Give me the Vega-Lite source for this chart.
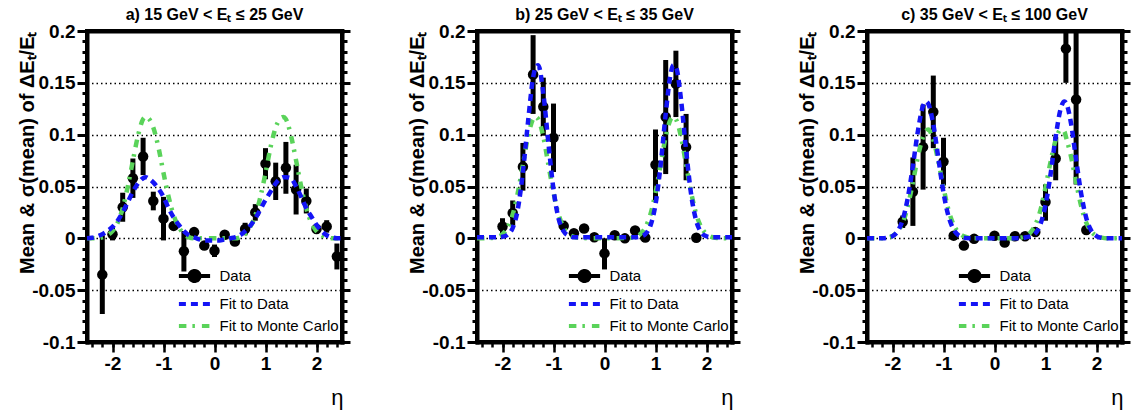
{
  "$schema": "https://vega.github.io/schema/vega-lite/v6.json",
  "background": "white",
  "padding": {"left": 14, "top": 5, "right": 0, "bottom": 0},
  "spacing": 135,
  "bounds": "flush",
  "datasets": {
    "pts": [
      {"p":"a","x":-2.2,"y":-0.035,"lo":-0.073,"hi":0.003},
      {"p":"a","x":-2.0,"y":0.004,"lo":-0.002,"hi":0.010},
      {"p":"a","x":-1.8,"y":0.030,"lo":0.016,"hi":0.044},
      {"p":"a","x":-1.6,"y":0.058,"lo":0.039,"hi":0.077},
      {"p":"a","x":-1.4,"y":0.079,"lo":0.061,"hi":0.097},
      {"p":"a","x":-1.2,"y":0.036,"lo":0.027,"hi":0.045},
      {"p":"a","x":-1.0,"y":0.019,"lo":-0.002,"hi":0.040},
      {"p":"a","x":-0.8,"y":0.012,"lo":0.008,"hi":0.016},
      {"p":"a","x":-0.6,"y":-0.0125,"lo":-0.032,"hi":0.007},
      {"p":"a","x":-0.4,"y":0.006,"lo":0.003,"hi":0.009},
      {"p":"a","x":-0.2,"y":-0.007,"lo":-0.010,"hi":-0.004},
      {"p":"a","x":0.0,"y":-0.012,"lo":-0.018,"hi":-0.006},
      {"p":"a","x":0.2,"y":0.0035,"lo":0.0005,"hi":0.0065},
      {"p":"a","x":0.4,"y":-0.003,"lo":-0.006,"hi":0.0},
      {"p":"a","x":0.6,"y":0.009,"lo":0.003,"hi":0.015},
      {"p":"a","x":0.8,"y":0.025,"lo":0.017,"hi":0.033},
      {"p":"a","x":1.0,"y":0.072,"lo":0.057,"hi":0.087},
      {"p":"a","x":1.2,"y":0.055,"lo":0.037,"hi":0.073},
      {"p":"a","x":1.4,"y":0.068,"lo":0.043,"hi":0.093},
      {"p":"a","x":1.6,"y":0.047,"lo":0.023,"hi":0.071},
      {"p":"a","x":1.8,"y":0.036,"lo":0.024,"hi":0.048},
      {"p":"a","x":2.0,"y":0.009,"lo":0.006,"hi":0.012},
      {"p":"a","x":2.2,"y":0.0115,"lo":0.0055,"hi":0.0175},
      {"p":"a","x":2.4,"y":-0.0175,"lo":-0.030,"hi":-0.005},
      {"p":"b","x":-2.0,"y":0.0114,"lo":0.0034,"hi":0.0194},
      {"p":"b","x":-1.8,"y":0.0245,"lo":0.0125,"hi":0.0365},
      {"p":"b","x":-1.6,"y":0.069,"lo":0.046,"hi":0.092},
      {"p":"b","x":-1.4,"y":0.158,"lo":0.120,"hi":0.196},
      {"p":"b","x":-1.2,"y":0.127,"lo":0.099,"hi":0.155},
      {"p":"b","x":-1.0,"y":0.097,"lo":0.064,"hi":0.130},
      {"p":"b","x":-0.8,"y":0.012,"lo":0.007,"hi":0.017},
      {"p":"b","x":-0.6,"y":0.005,"lo":0.002,"hi":0.008},
      {"p":"b","x":-0.4,"y":0.0095,"lo":0.0065,"hi":0.0125},
      {"p":"b","x":-0.2,"y":0.001,"lo":-0.001,"hi":0.003},
      {"p":"b","x":0.0,"y":-0.0145,"lo":-0.030,"hi":0.0},
      {"p":"b","x":0.2,"y":0.003,"lo":0.001,"hi":0.005},
      {"p":"b","x":0.4,"y":0.0,"lo":-0.002,"hi":0.002},
      {"p":"b","x":0.6,"y":0.0075,"lo":0.0045,"hi":0.0105},
      {"p":"b","x":0.8,"y":0.0007,"lo":-0.0013,"hi":0.0027},
      {"p":"b","x":1.0,"y":0.071,"lo":0.037,"hi":0.105},
      {"p":"b","x":1.2,"y":0.117,"lo":0.062,"hi":0.172},
      {"p":"b","x":1.4,"y":0.149,"lo":0.117,"hi":0.181},
      {"p":"b","x":1.6,"y":0.088,"lo":0.056,"hi":0.120},
      {"p":"b","x":1.8,"y":0.0005,"lo":-0.0015,"hi":0.0025},
      {"p":"c","x":-1.8,"y":0.016,"lo":0.010,"hi":0.022},
      {"p":"c","x":-1.6,"y":0.045,"lo":0.012,"hi":0.078},
      {"p":"c","x":-1.4,"y":0.088,"lo":0.047,"hi":0.129},
      {"p":"c","x":-1.2,"y":0.122,"lo":0.087,"hi":0.157},
      {"p":"c","x":-1.0,"y":0.074,"lo":0.051,"hi":0.097},
      {"p":"c","x":-0.8,"y":0.0026,"lo":0.0,"hi":0.0052},
      {"p":"c","x":-0.6,"y":-0.007,"lo":-0.011,"hi":-0.003},
      {"p":"c","x":-0.4,"y":-0.0005,"lo":-0.0035,"hi":0.0025},
      {"p":"c","x":0.0,"y":0.0025,"lo":0.0005,"hi":0.0045},
      {"p":"c","x":0.2,"y":-0.004,"lo":-0.006,"hi":-0.002},
      {"p":"c","x":0.4,"y":0.002,"lo":0.0,"hi":0.004},
      {"p":"c","x":0.6,"y":0.002,"lo":0.0,"hi":0.004},
      {"p":"c","x":0.8,"y":0.006,"lo":0.003,"hi":0.009},
      {"p":"c","x":1.0,"y":0.035,"lo":0.017,"hi":0.052},
      {"p":"c","x":1.2,"y":0.077,"lo":0.056,"hi":0.098},
      {"p":"c","x":1.4,"y":0.183,"lo":0.150,"hi":0.216},
      {"p":"c","x":1.6,"y":0.134,"lo":0.052,"hi":0.216},
      {"p":"c","x":1.8,"y":0.008,"lo":0.005,"hi":0.011}
    ],
    "fits": [
      {"p":"a","x":-2.5,"fit":0,"mc":0},
      {"p":"a","x":-2.4,"fit":0.0005,"mc":0},
      {"p":"a","x":-2.3,"fit":0.002,"mc":0},
      {"p":"a","x":-2.2,"fit":0.004,"mc":0.001},
      {"p":"a","x":-2.1,"fit":0.007,"mc":0.003},
      {"p":"a","x":-2.0,"fit":0.011,"mc":0.007},
      {"p":"a","x":-1.9,"fit":0.017,"mc":0.015},
      {"p":"a","x":-1.8,"fit":0.025,"mc":0.029},
      {"p":"a","x":-1.7,"fit":0.035,"mc":0.050},
      {"p":"a","x":-1.6,"fit":0.045,"mc":0.075},
      {"p":"a","x":-1.5,"fit":0.053,"mc":0.099},
      {"p":"a","x":-1.4,"fit":0.058,"mc":0.115},
      {"p":"a","x":-1.35,"fit":0.059,"mc":0.117},
      {"p":"a","x":-1.3,"fit":0.058,"mc":0.116},
      {"p":"a","x":-1.2,"fit":0.054,"mc":0.107},
      {"p":"a","x":-1.1,"fit":0.048,"mc":0.088},
      {"p":"a","x":-1.0,"fit":0.040,"mc":0.063},
      {"p":"a","x":-0.9,"fit":0.029,"mc":0.040},
      {"p":"a","x":-0.8,"fit":0.020,"mc":0.022},
      {"p":"a","x":-0.7,"fit":0.013,"mc":0.011},
      {"p":"a","x":-0.6,"fit":0.007,"mc":0.004},
      {"p":"a","x":-0.5,"fit":0.003,"mc":0.001},
      {"p":"a","x":-0.4,"fit":0.001,"mc":0},
      {"p":"a","x":-0.3,"fit":-0.001,"mc":0},
      {"p":"a","x":-0.2,"fit":-0.002,"mc":0},
      {"p":"a","x":-0.1,"fit":-0.002,"mc":0},
      {"p":"a","x":0.0,"fit":-0.002,"mc":0},
      {"p":"a","x":0.1,"fit":-0.002,"mc":0},
      {"p":"a","x":0.2,"fit":-0.001,"mc":0},
      {"p":"a","x":0.3,"fit":0,"mc":0},
      {"p":"a","x":0.4,"fit":0.001,"mc":0},
      {"p":"a","x":0.5,"fit":0.003,"mc":0.001},
      {"p":"a","x":0.6,"fit":0.007,"mc":0.004},
      {"p":"a","x":0.7,"fit":0.012,"mc":0.011},
      {"p":"a","x":0.8,"fit":0.019,"mc":0.022},
      {"p":"a","x":0.9,"fit":0.028,"mc":0.040},
      {"p":"a","x":1.0,"fit":0.037,"mc":0.063},
      {"p":"a","x":1.1,"fit":0.045,"mc":0.088},
      {"p":"a","x":1.2,"fit":0.053,"mc":0.107},
      {"p":"a","x":1.3,"fit":0.058,"mc":0.116},
      {"p":"a","x":1.35,"fit":0.059,"mc":0.117},
      {"p":"a","x":1.4,"fit":0.059,"mc":0.115},
      {"p":"a","x":1.5,"fit":0.058,"mc":0.099},
      {"p":"a","x":1.6,"fit":0.050,"mc":0.075},
      {"p":"a","x":1.7,"fit":0.040,"mc":0.050},
      {"p":"a","x":1.8,"fit":0.029,"mc":0.029},
      {"p":"a","x":1.9,"fit":0.021,"mc":0.015},
      {"p":"a","x":2.0,"fit":0.013,"mc":0.007},
      {"p":"a","x":2.1,"fit":0.007,"mc":0.003},
      {"p":"a","x":2.2,"fit":0.003,"mc":0.001},
      {"p":"a","x":2.3,"fit":0.001,"mc":0},
      {"p":"a","x":2.4,"fit":0,"mc":0},
      {"p":"a","x":2.5,"fit":0,"mc":0},
      {"p":"b","x":-2.5,"fit":0.001,"mc":0},
      {"p":"b","x":-2.2,"fit":0.001,"mc":0.0004},
      {"p":"b","x":-2.1,"fit":0.001,"mc":0.0013},
      {"p":"b","x":-2.0,"fit":0.0015,"mc":0.004},
      {"p":"b","x":-1.9,"fit":0.0035,"mc":0.0104},
      {"p":"b","x":-1.8,"fit":0.010,"mc":0.023},
      {"p":"b","x":-1.7,"fit":0.028,"mc":0.044},
      {"p":"b","x":-1.6,"fit":0.064,"mc":0.071},
      {"p":"b","x":-1.5,"fit":0.112,"mc":0.098},
      {"p":"b","x":-1.4,"fit":0.155,"mc":0.115},
      {"p":"b","x":-1.35,"fit":0.165,"mc":0.117},
      {"p":"b","x":-1.3,"fit":0.167,"mc":0.115},
      {"p":"b","x":-1.2,"fit":0.140,"mc":0.098},
      {"p":"b","x":-1.1,"fit":0.092,"mc":0.071},
      {"p":"b","x":-1.0,"fit":0.047,"mc":0.044},
      {"p":"b","x":-0.9,"fit":0.019,"mc":0.023},
      {"p":"b","x":-0.8,"fit":0.0067,"mc":0.0104},
      {"p":"b","x":-0.7,"fit":0.0024,"mc":0.004},
      {"p":"b","x":-0.6,"fit":0.001,"mc":0.0013},
      {"p":"b","x":-0.5,"fit":0.001,"mc":0.0004},
      {"p":"b","x":0.0,"fit":0.001,"mc":0},
      {"p":"b","x":0.5,"fit":0.001,"mc":0.0004},
      {"p":"b","x":0.6,"fit":0.001,"mc":0.0013},
      {"p":"b","x":0.7,"fit":0.0017,"mc":0.004},
      {"p":"b","x":0.8,"fit":0.0041,"mc":0.0104},
      {"p":"b","x":0.9,"fit":0.0122,"mc":0.023},
      {"p":"b","x":1.0,"fit":0.0326,"mc":0.044},
      {"p":"b","x":1.1,"fit":0.0705,"mc":0.071},
      {"p":"b","x":1.2,"fit":0.120,"mc":0.098},
      {"p":"b","x":1.3,"fit":0.1595,"mc":0.115},
      {"p":"b","x":1.35,"fit":0.167,"mc":0.117},
      {"p":"b","x":1.4,"fit":0.1655,"mc":0.115},
      {"p":"b","x":1.5,"fit":0.134,"mc":0.098},
      {"p":"b","x":1.6,"fit":0.085,"mc":0.071},
      {"p":"b","x":1.7,"fit":0.042,"mc":0.044},
      {"p":"b","x":1.8,"fit":0.0167,"mc":0.023},
      {"p":"b","x":1.9,"fit":0.0056,"mc":0.0104},
      {"p":"b","x":2.0,"fit":0.002,"mc":0.004},
      {"p":"b","x":2.1,"fit":0.001,"mc":0.0013},
      {"p":"b","x":2.2,"fit":0.001,"mc":0.0004},
      {"p":"b","x":2.5,"fit":0.001,"mc":0},
      {"p":"c","x":-2.5,"fit":0,"mc":0},
      {"p":"c","x":-2.2,"fit":0,"mc":0},
      {"p":"c","x":-2.1,"fit":0.0005,"mc":0.0007},
      {"p":"c","x":-2.0,"fit":0.0021,"mc":0.0023},
      {"p":"c","x":-1.9,"fit":0.0068,"mc":0.0065},
      {"p":"c","x":-1.8,"fit":0.018,"mc":0.015},
      {"p":"c","x":-1.7,"fit":0.039,"mc":0.031},
      {"p":"c","x":-1.6,"fit":0.070,"mc":0.054},
      {"p":"c","x":-1.5,"fit":0.104,"mc":0.079},
      {"p":"c","x":-1.4,"fit":0.128,"mc":0.098},
      {"p":"c","x":-1.34,"fit":0.132,"mc":0.104},
      {"p":"c","x":-1.3,"fit":0.130,"mc":0.105},
      {"p":"c","x":-1.2,"fit":0.110,"mc":0.095},
      {"p":"c","x":-1.1,"fit":0.077,"mc":0.074},
      {"p":"c","x":-1.0,"fit":0.044,"mc":0.049},
      {"p":"c","x":-0.9,"fit":0.021,"mc":0.027},
      {"p":"c","x":-0.8,"fit":0.0084,"mc":0.013},
      {"p":"c","x":-0.7,"fit":0.0028,"mc":0.0054},
      {"p":"c","x":-0.6,"fit":0.0007,"mc":0.0019},
      {"p":"c","x":-0.5,"fit":0,"mc":0.0005},
      {"p":"c","x":-0.4,"fit":0,"mc":0},
      {"p":"c","x":0.4,"fit":0,"mc":0},
      {"p":"c","x":0.5,"fit":0,"mc":0.0005},
      {"p":"c","x":0.6,"fit":0.0008,"mc":0.0019},
      {"p":"c","x":0.7,"fit":0.002,"mc":0.0054},
      {"p":"c","x":0.8,"fit":0.0046,"mc":0.013},
      {"p":"c","x":0.9,"fit":0.0135,"mc":0.027},
      {"p":"c","x":1.0,"fit":0.032,"mc":0.049},
      {"p":"c","x":1.1,"fit":0.062,"mc":0.074},
      {"p":"c","x":1.2,"fit":0.098,"mc":0.095},
      {"p":"c","x":1.3,"fit":0.1255,"mc":0.105},
      {"p":"c","x":1.37,"fit":0.132,"mc":0.103},
      {"p":"c","x":1.4,"fit":0.131,"mc":0.098},
      {"p":"c","x":1.5,"fit":0.111,"mc":0.079},
      {"p":"c","x":1.6,"fit":0.076,"mc":0.054},
      {"p":"c","x":1.7,"fit":0.043,"mc":0.031},
      {"p":"c","x":1.8,"fit":0.0195,"mc":0.015},
      {"p":"c","x":1.9,"fit":0.0073,"mc":0.0065},
      {"p":"c","x":2.0,"fit":0.0022,"mc":0.0023},
      {"p":"c","x":2.1,"fit":0.0005,"mc":0.0007},
      {"p":"c","x":2.2,"fit":0,"mc":0},
      {"p":"c","x":2.5,"fit":0,"mc":0}
    ]
  },
  "hconcat": [
    {
      "title": {"text": "a) 15 GeV < Eₜ ≤ 25 GeV"},
      "width": 255, "height": 311,
      "layer": [
        {"data": {"name": "pts"}, "transform": [{"filter": "datum.p === 'a'"}],
          "mark": {"type": "rule", "strokeWidth": 5, "color": "black"},
          "encoding": {
            "x": {"field": "x", "type": "quantitative", "scale": {"domain": [-2.5, 2.5], "nice": false, "zero": false},
              "axis": {"orient": "bottom", "values": [-2.4,-2.2,-2,-1.8,-1.6,-1.4,-1.2,-1,-0.8,-0.6,-0.4,-0.2,0,0.2,0.4,0.6,0.8,1,1.2,1.4,1.6,1.8,2,2.2,2.4], "title": null, "labels": false, "grid": false, "domain": false, "ticks": true, "tickSize": 5, "tickWidth": 2.5, "tickColor": "black"}},
            "y": {"field": "lo", "type": "quantitative", "scale": {"domain": [-0.1, 0.2], "nice": false, "zero": false, "clamp": true},
              "axis": {"orient": "left", "values": [-0.1,-0.09,-0.08,-0.07,-0.06,-0.05,-0.04,-0.03,-0.02,-0.01,0,0.01,0.02,0.03,0.04,0.05,0.06,0.07,0.08,0.09,0.1,0.11,0.12,0.13,0.14,0.15,0.16,0.17,0.18,0.19,0.2], "title": null, "labels": false, "grid": false, "domain": false, "ticks": true, "tickSize": 5, "tickWidth": 3, "tickColor": "black"}},
            "y2": {"field": "hi"}}},
        {"data": {"name": "pts"}, "transform": [{"filter": "datum.p === 'a'"}],
          "mark": {"type": "point", "shape": "circle", "filled": true, "size": 110, "color": "black", "opacity": 1},
          "encoding": {
            "x": {"field": "x", "type": "quantitative", "scale": {"domain": [-2.5, 2.5], "nice": false, "zero": false},
              "axis": {"orient": "bottom", "values": [-2, -1, 0, 1, 2], "grid": false, "ticks": true, "tickSize": 10, "tickWidth": 2.5, "tickColor": "black", "labelPadding": 2,
                "domain": true, "domainWidth": 4, "domainColor": "black", "domainCap": "square",
                "labelExpr": "replace(format(datum.value, 'd'), '\u2212', '-')",
                "title": "η", "titleFontSize": 22, "titleFontWeight": "normal", "titleX": 256, "titleY": 62, "titleAlign": "right", "titleBaseline": "alphabetic"}},
            "y": {"field": "y", "type": "quantitative", "scale": {"domain": [-0.1, 0.2], "nice": false, "zero": false, "clamp": true},
              "axis": {"orient": "left", "values": [-0.1, -0.05, 0, 0.05, 0.1, 0.15, 0.2], "ticks": true, "tickSize": 10, "tickWidth": 3, "tickColor": "black", "labelPadding": 2,
                "domain": true, "domainWidth": 4, "domainColor": "black", "domainCap": "square",
                "labelExpr": "replace(format(datum.value, '.2~f'), '\u2212', '-')",
                "title": "Mean & σ(mean) of ΔEₜ/Eₜ", "titleFontSize": 20, "titleFontWeight": "bold", "titleAngle": -90, "titleX": -54, "titleY": 0, "titleAlign": "right", "titleBaseline": "alphabetic",
                "grid": true, "gridColor": "black", "gridWidth": 1.5, "gridDash": [1.5, 3],
                "gridOpacity": {"condition": {"test": "datum.value > -0.095 && datum.value < 0.195", "value": 1}, "value": 0}}}}},
        {"data": {"name": "fits"}, "transform": [{"filter": "datum.p === 'a'"}, {"fold": ["mc", "fit"], "as": ["series", "val"]}, {"filter": "datum.series === 'mc'"}],
          "mark": {"type": "line", "strokeWidth": 4.5, "interpolate": "monotone"},
          "encoding": {
            "x": {"field": "x", "type": "quantitative", "scale": {"domain": [-2.5, 2.5], "nice": false, "zero": false},
              "axis": {"orient": "top", "title": null, "labels": false, "ticks": false, "grid": false, "domain": true, "domainWidth": 4, "domainColor": "black", "domainCap": "square"}},
            "y": {"field": "val", "type": "quantitative", "scale": {"domain": [-0.1, 0.2], "nice": false, "zero": false, "clamp": true},
              "axis": {"orient": "right", "values": [-0.1, -0.05, 0, 0.05, 0.1, 0.15, 0.2], "title": null, "labels": false, "grid": false, "ticks": true, "tickSize": 8, "tickWidth": 3, "tickColor": "black", "domain": true, "domainWidth": 4, "domainColor": "black", "domainCap": "square"}},
            "color": {"field": "series", "type": "nominal", "scale": {"domain": ["data", "fit", "mc"], "range": ["black", "#1414f5", "#5ad35a"]},
              "legend": {"orient": "none", "legendX": 93.5, "legendY": 231, "title": null, "padding": 0, "symbolType": "M-1.3,0L1.3,0", "symbolSize": 576, "symbolStrokeWidth": 4, "labelFont": "Liberation Sans", "labelFontSize": 15, "labelFontWeight": "normal", "labelColor": "black", "labelOffset": 11, "rowPadding": 0,
                "labelExpr": "datum.value === 'data' ? 'Data' : datum.value === 'fit' ? 'Fit to Data' : 'Fit to Monte Carlo'",
                "encode": {"symbols": {"update": {"shape": [{"test": "datum.value === 'data'", "value": "M-1.3,0L1.3,0M-0.42,0A0.42,0.42,0,1,1,0.42,0A0.42,0.42,0,1,1,-0.42,0Z"}, {"value": "M-1.3,0L1.3,0"}], "fill": [{"test": "datum.value === 'data'", "value": "black"}, {"value": "transparent"}]}}}}},
            "strokeDash": {"field": "series", "type": "nominal", "scale": {"domain": ["data", "fit", "mc"], "range": [[1, 0], [7, 5], [7.5, 6, 2.5, 7]]},
              "legend": {"orient": "none", "legendX": 93.5, "legendY": 231, "title": null, "padding": 0, "symbolType": "M-1.3,0L1.3,0", "symbolSize": 576, "symbolStrokeWidth": 4, "labelFont": "Liberation Sans", "labelFontSize": 15, "labelFontWeight": "normal", "labelColor": "black", "labelOffset": 11, "rowPadding": 0,
                "labelExpr": "datum.value === 'data' ? 'Data' : datum.value === 'fit' ? 'Fit to Data' : 'Fit to Monte Carlo'",
                "encode": {"symbols": {"update": {"shape": [{"test": "datum.value === 'data'", "value": "M-1.3,0L1.3,0M-0.42,0A0.42,0.42,0,1,1,0.42,0A0.42,0.42,0,1,1,-0.42,0Z"}, {"value": "M-1.3,0L1.3,0"}], "fill": [{"test": "datum.value === 'data'", "value": "black"}, {"value": "transparent"}]}}}}}}},
        {"data": {"name": "fits"}, "transform": [{"filter": "datum.p === 'a'"}, {"fold": ["mc", "fit"], "as": ["series", "val"]}, {"filter": "datum.series === 'fit'"}],
          "mark": {"type": "line", "strokeWidth": 4.5, "interpolate": "monotone"},
          "encoding": {
            "x": {"field": "x", "type": "quantitative", "scale": {"domain": [-2.5, 2.5], "nice": false, "zero": false}, "axis": null},
            "y": {"field": "val", "type": "quantitative", "scale": {"domain": [-0.1, 0.2], "nice": false, "zero": false, "clamp": true},
              "axis": {"orient": "right", "values": [-0.1,-0.09,-0.08,-0.07,-0.06,-0.05,-0.04,-0.03,-0.02,-0.01,0,0.01,0.02,0.03,0.04,0.05,0.06,0.07,0.08,0.09,0.1,0.11,0.12,0.13,0.14,0.15,0.16,0.17,0.18,0.19,0.2], "title": null, "labels": false, "grid": false, "domain": false, "ticks": true, "tickSize": 5, "tickWidth": 3, "tickColor": "black"}},
            "color": {"field": "series", "type": "nominal", "scale": {"domain": ["data", "fit", "mc"], "range": ["black", "#1414f5", "#5ad35a"]},
              "legend": {"orient": "none", "legendX": 93.5, "legendY": 231, "title": null, "padding": 0, "symbolType": "M-1.3,0L1.3,0", "symbolSize": 576, "symbolStrokeWidth": 4, "labelFont": "Liberation Sans", "labelFontSize": 15, "labelFontWeight": "normal", "labelColor": "black", "labelOffset": 11, "rowPadding": 0,
                "labelExpr": "datum.value === 'data' ? 'Data' : datum.value === 'fit' ? 'Fit to Data' : 'Fit to Monte Carlo'",
                "encode": {"symbols": {"update": {"shape": [{"test": "datum.value === 'data'", "value": "M-1.3,0L1.3,0M-0.42,0A0.42,0.42,0,1,1,0.42,0A0.42,0.42,0,1,1,-0.42,0Z"}, {"value": "M-1.3,0L1.3,0"}], "fill": [{"test": "datum.value === 'data'", "value": "black"}, {"value": "transparent"}]}}}}},
            "strokeDash": {"field": "series", "type": "nominal", "scale": {"domain": ["data", "fit", "mc"], "range": [[1, 0], [7, 5], [7.5, 6, 2.5, 7]]},
              "legend": {"orient": "none", "legendX": 93.5, "legendY": 231, "title": null, "padding": 0, "symbolType": "M-1.3,0L1.3,0", "symbolSize": 576, "symbolStrokeWidth": 4, "labelFont": "Liberation Sans", "labelFontSize": 15, "labelFontWeight": "normal", "labelColor": "black", "labelOffset": 11, "rowPadding": 0,
                "labelExpr": "datum.value === 'data' ? 'Data' : datum.value === 'fit' ? 'Fit to Data' : 'Fit to Monte Carlo'",
                "encode": {"symbols": {"update": {"shape": [{"test": "datum.value === 'data'", "value": "M-1.3,0L1.3,0M-0.42,0A0.42,0.42,0,1,1,0.42,0A0.42,0.42,0,1,1,-0.42,0Z"}, {"value": "M-1.3,0L1.3,0"}], "fill": [{"test": "datum.value === 'data'", "value": "black"}, {"value": "transparent"}]}}}}}}}
      ],
      "resolve": {"axis": {"x": "independent", "y": "independent"}}
    },
    {
      "title": {"text": "b) 25 GeV < Eₜ ≤ 35 GeV"},
      "width": 255, "height": 311,
      "layer": [
        {"data": {"name": "pts"}, "transform": [{"filter": "datum.p === 'b'"}],
          "mark": {"type": "rule", "strokeWidth": 5, "color": "black"},
          "encoding": {
            "x": {"field": "x", "type": "quantitative", "scale": {"domain": [-2.5, 2.5], "nice": false, "zero": false},
              "axis": {"orient": "bottom", "values": [-2.4,-2.2,-2,-1.8,-1.6,-1.4,-1.2,-1,-0.8,-0.6,-0.4,-0.2,0,0.2,0.4,0.6,0.8,1,1.2,1.4,1.6,1.8,2,2.2,2.4], "title": null, "labels": false, "grid": false, "domain": false, "ticks": true, "tickSize": 5, "tickWidth": 2.5, "tickColor": "black"}},
            "y": {"field": "lo", "type": "quantitative", "scale": {"domain": [-0.1, 0.2], "nice": false, "zero": false, "clamp": true},
              "axis": {"orient": "left", "values": [-0.1,-0.09,-0.08,-0.07,-0.06,-0.05,-0.04,-0.03,-0.02,-0.01,0,0.01,0.02,0.03,0.04,0.05,0.06,0.07,0.08,0.09,0.1,0.11,0.12,0.13,0.14,0.15,0.16,0.17,0.18,0.19,0.2], "title": null, "labels": false, "grid": false, "domain": false, "ticks": true, "tickSize": 5, "tickWidth": 3, "tickColor": "black"}},
            "y2": {"field": "hi"}}},
        {"data": {"name": "pts"}, "transform": [{"filter": "datum.p === 'b'"}],
          "mark": {"type": "point", "shape": "circle", "filled": true, "size": 110, "color": "black", "opacity": 1},
          "encoding": {
            "x": {"field": "x", "type": "quantitative", "scale": {"domain": [-2.5, 2.5], "nice": false, "zero": false},
              "axis": {"orient": "bottom", "values": [-2, -1, 0, 1, 2], "grid": false, "ticks": true, "tickSize": 10, "tickWidth": 2.5, "tickColor": "black", "labelPadding": 2,
                "domain": true, "domainWidth": 4, "domainColor": "black", "domainCap": "square",
                "labelExpr": "replace(format(datum.value, 'd'), '\u2212', '-')",
                "title": "η", "titleFontSize": 22, "titleFontWeight": "normal", "titleX": 256, "titleY": 62, "titleAlign": "right", "titleBaseline": "alphabetic"}},
            "y": {"field": "y", "type": "quantitative", "scale": {"domain": [-0.1, 0.2], "nice": false, "zero": false, "clamp": true},
              "axis": {"orient": "left", "values": [-0.1, -0.05, 0, 0.05, 0.1, 0.15, 0.2], "ticks": true, "tickSize": 10, "tickWidth": 3, "tickColor": "black", "labelPadding": 2,
                "domain": true, "domainWidth": 4, "domainColor": "black", "domainCap": "square",
                "labelExpr": "replace(format(datum.value, '.2~f'), '\u2212', '-')",
                "title": "Mean & σ(mean) of ΔEₜ/Eₜ", "titleFontSize": 20, "titleFontWeight": "bold", "titleAngle": -90, "titleX": -54, "titleY": 0, "titleAlign": "right", "titleBaseline": "alphabetic",
                "grid": true, "gridColor": "black", "gridWidth": 1.5, "gridDash": [1.5, 3],
                "gridOpacity": {"condition": {"test": "datum.value > -0.095 && datum.value < 0.195", "value": 1}, "value": 0}}}}},
        {"data": {"name": "fits"}, "transform": [{"filter": "datum.p === 'b'"}, {"fold": ["mc", "fit"], "as": ["series", "val"]}, {"filter": "datum.series === 'mc'"}],
          "mark": {"type": "line", "strokeWidth": 4.5, "interpolate": "monotone"},
          "encoding": {
            "x": {"field": "x", "type": "quantitative", "scale": {"domain": [-2.5, 2.5], "nice": false, "zero": false},
              "axis": {"orient": "top", "title": null, "labels": false, "ticks": false, "grid": false, "domain": true, "domainWidth": 4, "domainColor": "black", "domainCap": "square"}},
            "y": {"field": "val", "type": "quantitative", "scale": {"domain": [-0.1, 0.2], "nice": false, "zero": false, "clamp": true},
              "axis": {"orient": "right", "values": [-0.1, -0.05, 0, 0.05, 0.1, 0.15, 0.2], "title": null, "labels": false, "grid": false, "ticks": true, "tickSize": 8, "tickWidth": 3, "tickColor": "black", "domain": true, "domainWidth": 4, "domainColor": "black", "domainCap": "square"}},
            "color": {"field": "series", "type": "nominal", "scale": {"domain": ["data", "fit", "mc"], "range": ["black", "#1414f5", "#5ad35a"]},
              "legend": {"orient": "none", "legendX": 93.5, "legendY": 231, "title": null, "padding": 0, "symbolType": "M-1.3,0L1.3,0", "symbolSize": 576, "symbolStrokeWidth": 4, "labelFont": "Liberation Sans", "labelFontSize": 15, "labelFontWeight": "normal", "labelColor": "black", "labelOffset": 11, "rowPadding": 0,
                "labelExpr": "datum.value === 'data' ? 'Data' : datum.value === 'fit' ? 'Fit to Data' : 'Fit to Monte Carlo'",
                "encode": {"symbols": {"update": {"shape": [{"test": "datum.value === 'data'", "value": "M-1.3,0L1.3,0M-0.42,0A0.42,0.42,0,1,1,0.42,0A0.42,0.42,0,1,1,-0.42,0Z"}, {"value": "M-1.3,0L1.3,0"}], "fill": [{"test": "datum.value === 'data'", "value": "black"}, {"value": "transparent"}]}}}}},
            "strokeDash": {"field": "series", "type": "nominal", "scale": {"domain": ["data", "fit", "mc"], "range": [[1, 0], [7, 5], [7.5, 6, 2.5, 7]]},
              "legend": {"orient": "none", "legendX": 93.5, "legendY": 231, "title": null, "padding": 0, "symbolType": "M-1.3,0L1.3,0", "symbolSize": 576, "symbolStrokeWidth": 4, "labelFont": "Liberation Sans", "labelFontSize": 15, "labelFontWeight": "normal", "labelColor": "black", "labelOffset": 11, "rowPadding": 0,
                "labelExpr": "datum.value === 'data' ? 'Data' : datum.value === 'fit' ? 'Fit to Data' : 'Fit to Monte Carlo'",
                "encode": {"symbols": {"update": {"shape": [{"test": "datum.value === 'data'", "value": "M-1.3,0L1.3,0M-0.42,0A0.42,0.42,0,1,1,0.42,0A0.42,0.42,0,1,1,-0.42,0Z"}, {"value": "M-1.3,0L1.3,0"}], "fill": [{"test": "datum.value === 'data'", "value": "black"}, {"value": "transparent"}]}}}}}}},
        {"data": {"name": "fits"}, "transform": [{"filter": "datum.p === 'b'"}, {"fold": ["mc", "fit"], "as": ["series", "val"]}, {"filter": "datum.series === 'fit'"}],
          "mark": {"type": "line", "strokeWidth": 4.5, "interpolate": "monotone"},
          "encoding": {
            "x": {"field": "x", "type": "quantitative", "scale": {"domain": [-2.5, 2.5], "nice": false, "zero": false}, "axis": null},
            "y": {"field": "val", "type": "quantitative", "scale": {"domain": [-0.1, 0.2], "nice": false, "zero": false, "clamp": true},
              "axis": {"orient": "right", "values": [-0.1,-0.09,-0.08,-0.07,-0.06,-0.05,-0.04,-0.03,-0.02,-0.01,0,0.01,0.02,0.03,0.04,0.05,0.06,0.07,0.08,0.09,0.1,0.11,0.12,0.13,0.14,0.15,0.16,0.17,0.18,0.19,0.2], "title": null, "labels": false, "grid": false, "domain": false, "ticks": true, "tickSize": 5, "tickWidth": 3, "tickColor": "black"}},
            "color": {"field": "series", "type": "nominal", "scale": {"domain": ["data", "fit", "mc"], "range": ["black", "#1414f5", "#5ad35a"]},
              "legend": {"orient": "none", "legendX": 93.5, "legendY": 231, "title": null, "padding": 0, "symbolType": "M-1.3,0L1.3,0", "symbolSize": 576, "symbolStrokeWidth": 4, "labelFont": "Liberation Sans", "labelFontSize": 15, "labelFontWeight": "normal", "labelColor": "black", "labelOffset": 11, "rowPadding": 0,
                "labelExpr": "datum.value === 'data' ? 'Data' : datum.value === 'fit' ? 'Fit to Data' : 'Fit to Monte Carlo'",
                "encode": {"symbols": {"update": {"shape": [{"test": "datum.value === 'data'", "value": "M-1.3,0L1.3,0M-0.42,0A0.42,0.42,0,1,1,0.42,0A0.42,0.42,0,1,1,-0.42,0Z"}, {"value": "M-1.3,0L1.3,0"}], "fill": [{"test": "datum.value === 'data'", "value": "black"}, {"value": "transparent"}]}}}}},
            "strokeDash": {"field": "series", "type": "nominal", "scale": {"domain": ["data", "fit", "mc"], "range": [[1, 0], [7, 5], [7.5, 6, 2.5, 7]]},
              "legend": {"orient": "none", "legendX": 93.5, "legendY": 231, "title": null, "padding": 0, "symbolType": "M-1.3,0L1.3,0", "symbolSize": 576, "symbolStrokeWidth": 4, "labelFont": "Liberation Sans", "labelFontSize": 15, "labelFontWeight": "normal", "labelColor": "black", "labelOffset": 11, "rowPadding": 0,
                "labelExpr": "datum.value === 'data' ? 'Data' : datum.value === 'fit' ? 'Fit to Data' : 'Fit to Monte Carlo'",
                "encode": {"symbols": {"update": {"shape": [{"test": "datum.value === 'data'", "value": "M-1.3,0L1.3,0M-0.42,0A0.42,0.42,0,1,1,0.42,0A0.42,0.42,0,1,1,-0.42,0Z"}, {"value": "M-1.3,0L1.3,0"}], "fill": [{"test": "datum.value === 'data'", "value": "black"}, {"value": "transparent"}]}}}}}}}
      ],
      "resolve": {"axis": {"x": "independent", "y": "independent"}}
    },
    {
      "title": {"text": "c) 35 GeV < Eₜ ≤ 100 GeV"},
      "width": 255, "height": 311,
      "layer": [
        {"data": {"name": "pts"}, "transform": [{"filter": "datum.p === 'c'"}],
          "mark": {"type": "rule", "strokeWidth": 5, "color": "black"},
          "encoding": {
            "x": {"field": "x", "type": "quantitative", "scale": {"domain": [-2.5, 2.5], "nice": false, "zero": false},
              "axis": {"orient": "bottom", "values": [-2.4,-2.2,-2,-1.8,-1.6,-1.4,-1.2,-1,-0.8,-0.6,-0.4,-0.2,0,0.2,0.4,0.6,0.8,1,1.2,1.4,1.6,1.8,2,2.2,2.4], "title": null, "labels": false, "grid": false, "domain": false, "ticks": true, "tickSize": 5, "tickWidth": 2.5, "tickColor": "black"}},
            "y": {"field": "lo", "type": "quantitative", "scale": {"domain": [-0.1, 0.2], "nice": false, "zero": false, "clamp": true},
              "axis": {"orient": "left", "values": [-0.1,-0.09,-0.08,-0.07,-0.06,-0.05,-0.04,-0.03,-0.02,-0.01,0,0.01,0.02,0.03,0.04,0.05,0.06,0.07,0.08,0.09,0.1,0.11,0.12,0.13,0.14,0.15,0.16,0.17,0.18,0.19,0.2], "title": null, "labels": false, "grid": false, "domain": false, "ticks": true, "tickSize": 5, "tickWidth": 3, "tickColor": "black"}},
            "y2": {"field": "hi"}}},
        {"data": {"name": "pts"}, "transform": [{"filter": "datum.p === 'c'"}],
          "mark": {"type": "point", "shape": "circle", "filled": true, "size": 110, "color": "black", "opacity": 1},
          "encoding": {
            "x": {"field": "x", "type": "quantitative", "scale": {"domain": [-2.5, 2.5], "nice": false, "zero": false},
              "axis": {"orient": "bottom", "values": [-2, -1, 0, 1, 2], "grid": false, "ticks": true, "tickSize": 10, "tickWidth": 2.5, "tickColor": "black", "labelPadding": 2,
                "domain": true, "domainWidth": 4, "domainColor": "black", "domainCap": "square",
                "labelExpr": "replace(format(datum.value, 'd'), '\u2212', '-')",
                "title": "η", "titleFontSize": 22, "titleFontWeight": "normal", "titleX": 256, "titleY": 62, "titleAlign": "right", "titleBaseline": "alphabetic"}},
            "y": {"field": "y", "type": "quantitative", "scale": {"domain": [-0.1, 0.2], "nice": false, "zero": false, "clamp": true},
              "axis": {"orient": "left", "values": [-0.1, -0.05, 0, 0.05, 0.1, 0.15, 0.2], "ticks": true, "tickSize": 10, "tickWidth": 3, "tickColor": "black", "labelPadding": 2,
                "domain": true, "domainWidth": 4, "domainColor": "black", "domainCap": "square",
                "labelExpr": "replace(format(datum.value, '.2~f'), '\u2212', '-')",
                "title": "Mean & σ(mean) of ΔEₜ/Eₜ", "titleFontSize": 20, "titleFontWeight": "bold", "titleAngle": -90, "titleX": -54, "titleY": 0, "titleAlign": "right", "titleBaseline": "alphabetic",
                "grid": true, "gridColor": "black", "gridWidth": 1.5, "gridDash": [1.5, 3],
                "gridOpacity": {"condition": {"test": "datum.value > -0.095 && datum.value < 0.195", "value": 1}, "value": 0}}}}},
        {"data": {"name": "fits"}, "transform": [{"filter": "datum.p === 'c'"}, {"fold": ["mc", "fit"], "as": ["series", "val"]}, {"filter": "datum.series === 'mc'"}],
          "mark": {"type": "line", "strokeWidth": 4.5, "interpolate": "monotone"},
          "encoding": {
            "x": {"field": "x", "type": "quantitative", "scale": {"domain": [-2.5, 2.5], "nice": false, "zero": false},
              "axis": {"orient": "top", "title": null, "labels": false, "ticks": false, "grid": false, "domain": true, "domainWidth": 4, "domainColor": "black", "domainCap": "square"}},
            "y": {"field": "val", "type": "quantitative", "scale": {"domain": [-0.1, 0.2], "nice": false, "zero": false, "clamp": true},
              "axis": {"orient": "right", "values": [-0.1, -0.05, 0, 0.05, 0.1, 0.15, 0.2], "title": null, "labels": false, "grid": false, "ticks": true, "tickSize": 8, "tickWidth": 3, "tickColor": "black", "domain": true, "domainWidth": 4, "domainColor": "black", "domainCap": "square"}},
            "color": {"field": "series", "type": "nominal", "scale": {"domain": ["data", "fit", "mc"], "range": ["black", "#1414f5", "#5ad35a"]},
              "legend": {"orient": "none", "legendX": 93.5, "legendY": 231, "title": null, "padding": 0, "symbolType": "M-1.3,0L1.3,0", "symbolSize": 576, "symbolStrokeWidth": 4, "labelFont": "Liberation Sans", "labelFontSize": 15, "labelFontWeight": "normal", "labelColor": "black", "labelOffset": 11, "rowPadding": 0,
                "labelExpr": "datum.value === 'data' ? 'Data' : datum.value === 'fit' ? 'Fit to Data' : 'Fit to Monte Carlo'",
                "encode": {"symbols": {"update": {"shape": [{"test": "datum.value === 'data'", "value": "M-1.3,0L1.3,0M-0.42,0A0.42,0.42,0,1,1,0.42,0A0.42,0.42,0,1,1,-0.42,0Z"}, {"value": "M-1.3,0L1.3,0"}], "fill": [{"test": "datum.value === 'data'", "value": "black"}, {"value": "transparent"}]}}}}},
            "strokeDash": {"field": "series", "type": "nominal", "scale": {"domain": ["data", "fit", "mc"], "range": [[1, 0], [7, 5], [7.5, 6, 2.5, 7]]},
              "legend": {"orient": "none", "legendX": 93.5, "legendY": 231, "title": null, "padding": 0, "symbolType": "M-1.3,0L1.3,0", "symbolSize": 576, "symbolStrokeWidth": 4, "labelFont": "Liberation Sans", "labelFontSize": 15, "labelFontWeight": "normal", "labelColor": "black", "labelOffset": 11, "rowPadding": 0,
                "labelExpr": "datum.value === 'data' ? 'Data' : datum.value === 'fit' ? 'Fit to Data' : 'Fit to Monte Carlo'",
                "encode": {"symbols": {"update": {"shape": [{"test": "datum.value === 'data'", "value": "M-1.3,0L1.3,0M-0.42,0A0.42,0.42,0,1,1,0.42,0A0.42,0.42,0,1,1,-0.42,0Z"}, {"value": "M-1.3,0L1.3,0"}], "fill": [{"test": "datum.value === 'data'", "value": "black"}, {"value": "transparent"}]}}}}}}},
        {"data": {"name": "fits"}, "transform": [{"filter": "datum.p === 'c'"}, {"fold": ["mc", "fit"], "as": ["series", "val"]}, {"filter": "datum.series === 'fit'"}],
          "mark": {"type": "line", "strokeWidth": 4.5, "interpolate": "monotone"},
          "encoding": {
            "x": {"field": "x", "type": "quantitative", "scale": {"domain": [-2.5, 2.5], "nice": false, "zero": false}, "axis": null},
            "y": {"field": "val", "type": "quantitative", "scale": {"domain": [-0.1, 0.2], "nice": false, "zero": false, "clamp": true},
              "axis": {"orient": "right", "values": [-0.1,-0.09,-0.08,-0.07,-0.06,-0.05,-0.04,-0.03,-0.02,-0.01,0,0.01,0.02,0.03,0.04,0.05,0.06,0.07,0.08,0.09,0.1,0.11,0.12,0.13,0.14,0.15,0.16,0.17,0.18,0.19,0.2], "title": null, "labels": false, "grid": false, "domain": false, "ticks": true, "tickSize": 5, "tickWidth": 3, "tickColor": "black"}},
            "color": {"field": "series", "type": "nominal", "scale": {"domain": ["data", "fit", "mc"], "range": ["black", "#1414f5", "#5ad35a"]},
              "legend": {"orient": "none", "legendX": 93.5, "legendY": 231, "title": null, "padding": 0, "symbolType": "M-1.3,0L1.3,0", "symbolSize": 576, "symbolStrokeWidth": 4, "labelFont": "Liberation Sans", "labelFontSize": 15, "labelFontWeight": "normal", "labelColor": "black", "labelOffset": 11, "rowPadding": 0,
                "labelExpr": "datum.value === 'data' ? 'Data' : datum.value === 'fit' ? 'Fit to Data' : 'Fit to Monte Carlo'",
                "encode": {"symbols": {"update": {"shape": [{"test": "datum.value === 'data'", "value": "M-1.3,0L1.3,0M-0.42,0A0.42,0.42,0,1,1,0.42,0A0.42,0.42,0,1,1,-0.42,0Z"}, {"value": "M-1.3,0L1.3,0"}], "fill": [{"test": "datum.value === 'data'", "value": "black"}, {"value": "transparent"}]}}}}},
            "strokeDash": {"field": "series", "type": "nominal", "scale": {"domain": ["data", "fit", "mc"], "range": [[1, 0], [7, 5], [7.5, 6, 2.5, 7]]},
              "legend": {"orient": "none", "legendX": 93.5, "legendY": 231, "title": null, "padding": 0, "symbolType": "M-1.3,0L1.3,0", "symbolSize": 576, "symbolStrokeWidth": 4, "labelFont": "Liberation Sans", "labelFontSize": 15, "labelFontWeight": "normal", "labelColor": "black", "labelOffset": 11, "rowPadding": 0,
                "labelExpr": "datum.value === 'data' ? 'Data' : datum.value === 'fit' ? 'Fit to Data' : 'Fit to Monte Carlo'",
                "encode": {"symbols": {"update": {"shape": [{"test": "datum.value === 'data'", "value": "M-1.3,0L1.3,0M-0.42,0A0.42,0.42,0,1,1,0.42,0A0.42,0.42,0,1,1,-0.42,0Z"}, {"value": "M-1.3,0L1.3,0"}], "fill": [{"test": "datum.value === 'data'", "value": "black"}, {"value": "transparent"}]}}}}}}}
      ],
      "resolve": {"axis": {"x": "independent", "y": "independent"}}
    }
  ],
  "resolve": {"scale": {"color": "independent", "strokeDash": "independent"}, "legend": {"color": "independent", "strokeDash": "independent"}},
  "config": {
    "view": {"stroke": "black", "strokeWidth": 4},
    "font": "Liberation Sans",
    "title": {"font": "Liberation Sans", "fontSize": 16, "fontWeight": "bold", "color": "black", "offset": -1, "anchor": "middle"},
    "axis": {"labelFont": "Liberation Sans", "labelFontSize": 19, "labelFontWeight": "bold", "labelColor": "black", "tickColor": "black", "titleFont": "Liberation Sans", "titleColor": "black", "labelOverlap": false, "labelFlush": false, "grid": false}
  }
}
